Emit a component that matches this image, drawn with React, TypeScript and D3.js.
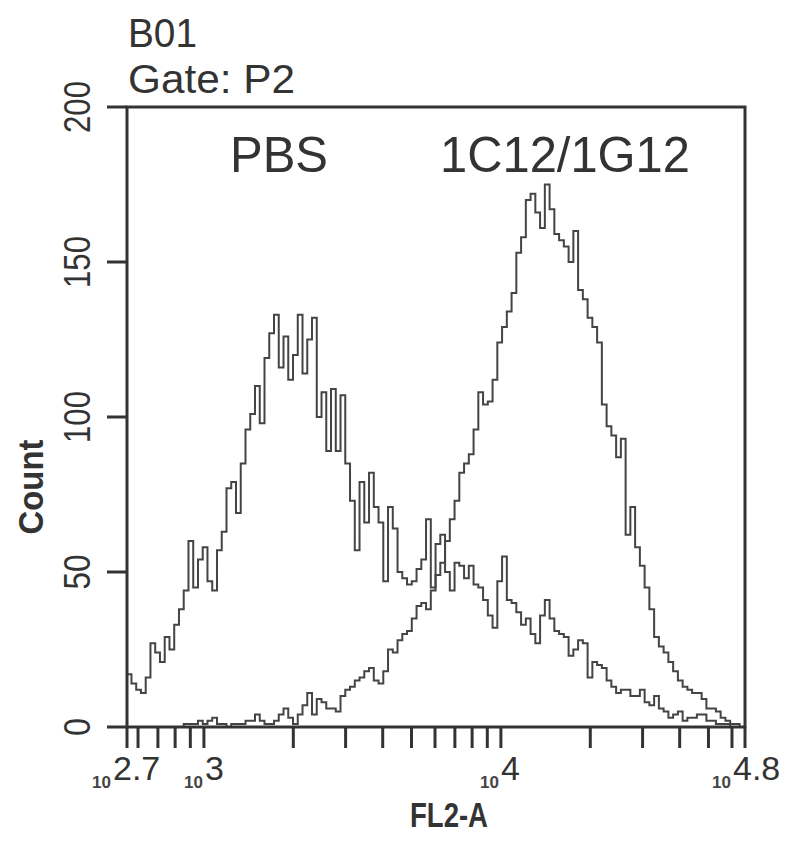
import React from "react";
import * as d3 from "d3";

// ---- data ----
const binStartLog = 2.74;
const binStepLog = 0.016;
const pbsCounts = [
  17, 14, 12, 11, 16, 27, 24, 21, 29, 25,
  33, 38, 44, 60, 45, 54, 58, 47, 44, 57,
  63, 77, 79, 69, 85, 96, 101, 110, 98, 119,
  127, 133, 116, 126, 112, 120, 133, 114, 125, 132,
  100, 108, 89, 109, 89, 107, 85, 73, 57, 79,
  66, 82, 71, 66, 47, 71, 64, 50, 48, 46,
  47, 51, 54, 67, 45, 59, 62, 50, 44, 53,
  52, 48, 52, 46, 45, 41, 36, 32, 47, 55,
  41, 40, 37, 33, 35, 30, 27, 36, 41, 35,
  31, 30, 29, 23, 25, 28, 27, 16, 21, 20,
  19, 15, 13, 11, 12, 12, 10, 10, 12, 8,
  7, 10, 6, 5, 3, 4, 5, 2, 3, 3,
  4, 4, 2, 2, 1, 1, 1, 0, 0, 0,
];
const mabCounts = [
  0, 0, 0, 0, 0, 0, 0, 0, 0, 0,
  0, 0, 1, 1, 1, 2, 1, 2, 3, 1,
  1, 0, 1, 1, 1, 2, 2, 4, 2, 1,
  1, 2, 4, 6, 3, 1, 4, 7, 11, 4,
  9, 8, 6, 6, 5, 10, 12, 13, 15, 16,
  18, 19, 15, 14, 18, 25, 24, 28, 30, 31,
  35, 39, 40, 38, 44, 49, 53, 60, 67, 73,
  82, 85, 88, 96, 108, 104, 105, 112, 124, 129,
  134, 140, 153, 158, 170, 172, 166, 161, 175, 167,
  159, 157, 155, 150, 160, 141, 138, 132, 129, 124,
  104, 97, 94, 87, 93, 62, 71, 58, 52, 45,
  38, 29, 26, 24, 21, 18, 15, 13, 12, 11,
  11, 9, 6, 6, 5, 3, 2, 1, 1, 0,
];
const yTicks = [0, 50, 100, 150, 200];
const xMinorTicks = [
  600, 700, 800, 900, 1000,
  2000, 3000, 4000, 5000, 6000, 7000, 8000, 9000, 10000,
  20000, 30000, 40000, 50000, 60000,
];
const xLabels = [
  { value: Math.pow(10, 2.741), exp: "2.7", shift: -14 },
  { value: 1000, exp: "3", shift: 1 },
  { value: 10000, exp: "4", shift: 0 },
  { value: Math.pow(10, 4.822), exp: "4.8", shift: -12 },
];
const titleLines = ["B01", "Gate: P2"];
const seriesLabels = ["PBS", "1C12/1G12"];
const xTitle = "FL2-A";
const yTitle = "Count";

const W = 794;
const H = 844;
const L = 127, R = 745, T = 107, B = 727;

export default function App() {
  const x = d3.scaleLog().domain([Math.pow(10, 2.741), Math.pow(10, 4.822)]).range([L, R]);
  const y = d3.scaleLinear().domain([0, 200]).range([B, T]);

  const stepPath = (counts: number[]) => {
    const pts: [number, number][] = counts.map((c, i) => [
      Math.pow(10, binStartLog + binStepLog * i),
      c,
    ]);
    pts.push([Math.pow(10, binStartLog + binStepLog * counts.length), counts[counts.length - 1]]);
    const line = d3
      .line<[number, number]>()
      .x((d) => Math.max(L, Math.min(R, x(d[0]))))
      .y((d) => y(d[1]))
      .curve(d3.curveStepAfter);
    return line(pts) || "";
  };

  const axisColor = "#333";
  const font = "'Liberation Sans', Arial, sans-serif";

  return (
    <svg width={W} height={H} style={{ position: "absolute", left: 0, top: 0, background: "#fff" }}>
      <rect x={0} y={0} width={W} height={H} fill="#fff" />
      {/* histograms */}
      <path d={stepPath(pbsCounts)} fill="none" stroke="#444" strokeWidth={2} />
      <path d={stepPath(mabCounts)} fill="none" stroke="#444" strokeWidth={2} />

      {/* frame */}
      <rect x={L} y={T} width={R - L} height={B - T} fill="none" stroke={axisColor} strokeWidth={3} />
      {/* y ticks */}
      {yTicks.map((t) => (
        <g key={t}>
          <line x1={L - 20} x2={L} y1={y(t)} y2={y(t)} stroke={axisColor} strokeWidth={3} />
          <text
            transform={`translate(90,${y(t)}) rotate(-90)`}
            textAnchor="middle"
            fontFamily={font}
            fontSize={37}
            fill="#333"
            textLength={t === 0 ? 18 : t === 50 ? 35 : 52}
            lengthAdjust="spacingAndGlyphs"
          >
            {t}
          </text>
        </g>
      ))}
      {/* x ticks */}
      <line x1={L} x2={L} y1={B} y2={B + 21} stroke={axisColor} strokeWidth={3} />
      {xMinorTicks.map((t) => (
        <line key={t} x1={x(t)} x2={x(t)} y1={B} y2={B + 21} stroke={axisColor} strokeWidth={3} />
      ))}
      <line x1={R} x2={R} y1={B} y2={B + 21} stroke={axisColor} strokeWidth={3} />
      {xLabels.map((lb) => {
        const sx = x(lb.value) + lb.shift;
        return (
          <g key={lb.exp}>
            <text x={sx - 2} y={788} textAnchor="end" fontFamily={font} fontSize={17} fontWeight="bold" fill="#444">
              10
            </text>
            <text x={sx} y={780} fontFamily={font} fontSize={34} fill="#333">
              {lb.exp}
            </text>
          </g>
        );
      })}

      {/* titles */}
      <text x={128} y={47} fontFamily={font} fontSize={41} fill="#333" textLength={69} lengthAdjust="spacingAndGlyphs">
        {titleLines[0]}
      </text>
      <text x={128} y={93} fontFamily={font} fontSize={41} fill="#333" textLength={167} lengthAdjust="spacingAndGlyphs">
        {titleLines[1]}
      </text>
      <text x={230} y={172} fontFamily={font} fontSize={50} fill="#333" textLength={98} lengthAdjust="spacingAndGlyphs">
        {seriesLabels[0]}
      </text>
      <text x={440} y={172} fontFamily={font} fontSize={50} fill="#333" textLength={250} lengthAdjust="spacingAndGlyphs">
        {seriesLabels[1]}
      </text>
      <text x={410} y={827} fontFamily={font} fontSize={35} fontWeight="bold" fill="#333" textLength={78} lengthAdjust="spacingAndGlyphs">
        {xTitle}
      </text>
      <text
        transform={`translate(43,${487}) rotate(-90)`}
        textAnchor="middle"
        fontFamily={font}
        fontSize={35}
        fontWeight="bold"
        fill="#333"
        textLength={95}
        lengthAdjust="spacingAndGlyphs"
      >
        {yTitle}
      </text>
    </svg>
  );
}
